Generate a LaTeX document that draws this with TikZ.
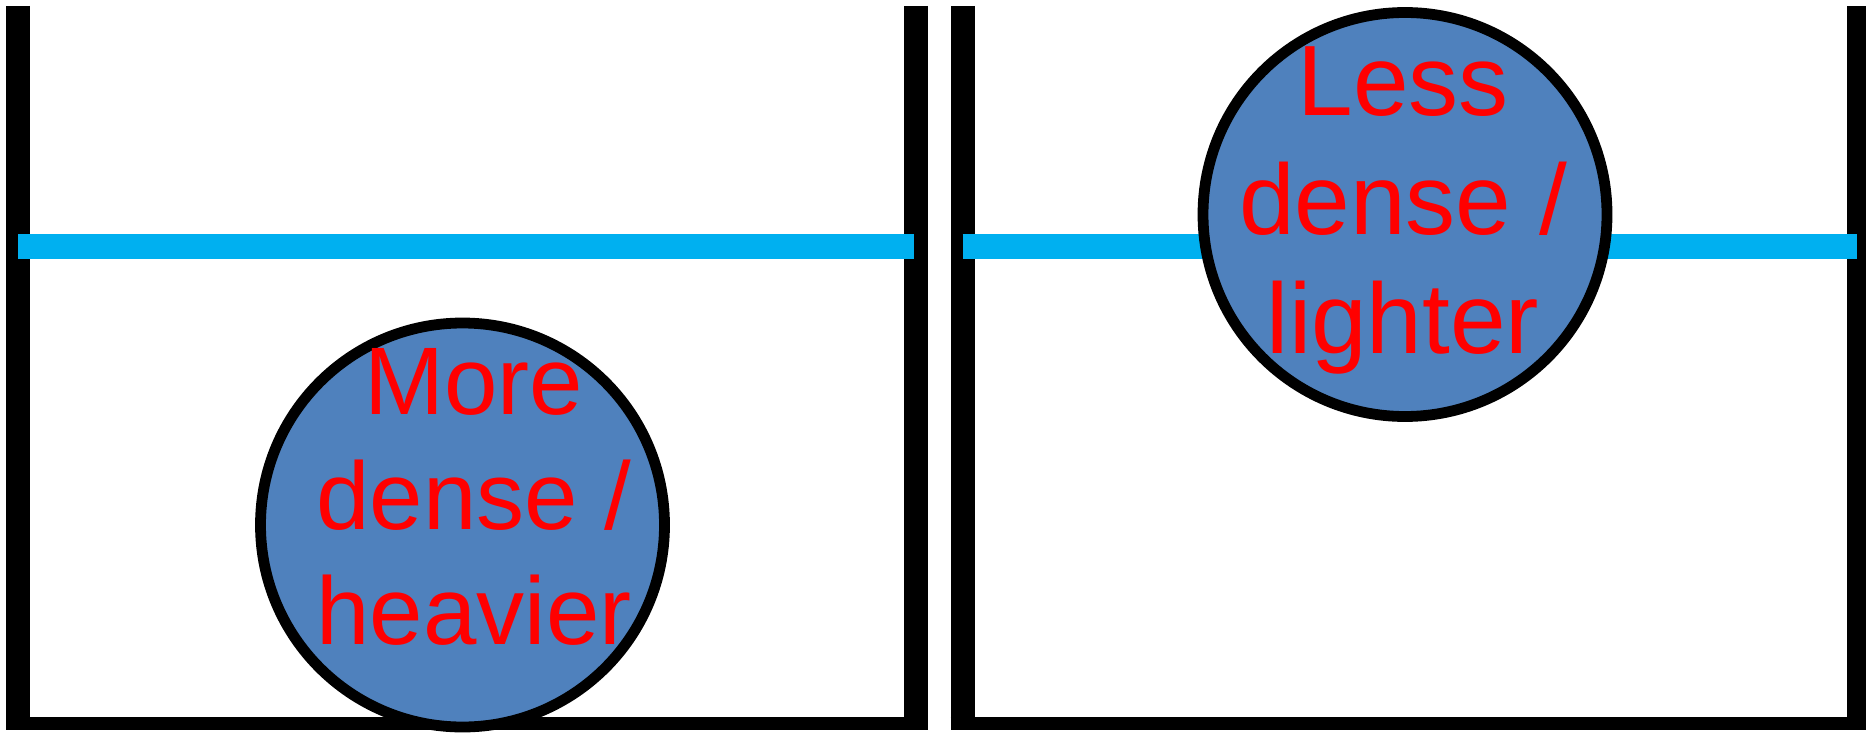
\documentclass[tikz,border=0pt]{standalone}
\usepackage{fontspec}
\setmainfont{Liberation Sans}
\usepackage{xcolor}
\usetikzlibrary{calc}
\definecolor{waterblue}{HTML}{00B0F0}
\definecolor{ballblue}{HTML}{4F81BD}
\tikzstyle{wall}=[line width=12pt, black]
\tikzstyle{tankfloor}=[line width=6.7pt, black]
\tikzstyle{water}=[line width=12.5pt, waterblue]
\tikzstyle{ball}=[circle, draw=black, fill=ballblue, line width=5.4pt, minimum size=202pt, inner sep=0pt, outer sep=0pt]
\tikzstyle{balltext}=[text=red, align=center, inner sep=0pt, font=\fontsize{48}{57.5}\selectfont]
\newcommand{\tankTop}{6}
\newcommand{\tankBot}{730}
\newcommand{\floorY}{723.5}
\newcommand{\waterY}{246.5}
\newcommand{\tank}[3]{
\coordinate (#1tl) at (#2,\tankTop);
\coordinate (#1bl) at (#2,\tankBot);
\coordinate (#1tr) at (#3,\tankTop);
\coordinate (#1br) at (#3,\tankBot);
\coordinate (#1fl) at (#2-12,\floorY);
\coordinate (#1fr) at (#3+12,\floorY);
\coordinate (#1wl) at (#2,\waterY);
\coordinate (#1wr) at (#3-1.5,\waterY);
\draw[tankfloor] (#1fl) -- (#1fr);
\draw[wall] (#1tl) -- (#1bl);
\draw[wall] (#1tr) -- (#1br);
\draw[water] (#1wl) -- (#1wr);
}

\begin{document}
\begin{tikzpicture}[x=0.5pt,y=-0.5pt]
\useasboundingbox (0,0) rectangle (1866,738);
\tank{a}{18}{915.5}
\tank{b}{962.5}{1858.5}
% sinking ball
\node[ball] (heavy) at (462.5,525) {};
\node[balltext] (heavytext) at ($(heavy.center)+(11.5,-28)$) {More\\dense /\\heavier};
% floating ball
\node[ball] (light) at (1405,214.5) {};
\node[balltext, font=\fontsize{50}{59.5}\selectfont] (lighttext) at ($(light.center)+(-2,-3.8)$) {Less\\dense /\\lighter};
\end{tikzpicture}
\end{document}
